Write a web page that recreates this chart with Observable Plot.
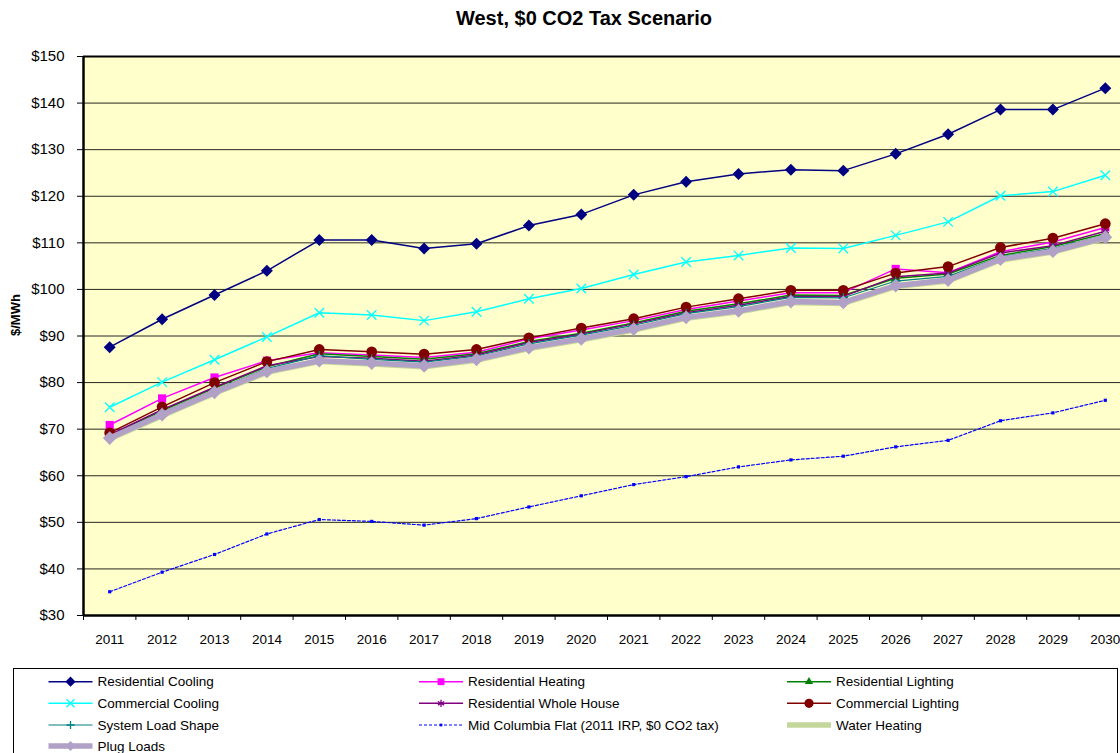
<!DOCTYPE html>
<html>
<head>
<meta charset="utf-8">
<script src="https://cdn.jsdelivr.net/npm/d3@7"></script>
<script src="https://cdn.jsdelivr.net/npm/@observablehq/plot@0.6"></script>
<style>
  html, body { margin: 0; padding: 0; background: #fff; overflow: hidden; }
  #wrap { position: relative; width: 1120px; height: 753px; font-family: "Liberation Sans", Arial, sans-serif; }
  #title { position: absolute; left: 0; width: 1168px; top: 6px; text-align: center; font-weight: bold; font-size: 20px; line-height: 24px; color: #000; }
  #chart { position: absolute; left: 0; top: 0; }
  #legend { position: absolute; left: 0; top: 660px; }
</style>
</head>
<body>
<div id="wrap">
  <div id="chart"></div>
  <div id="title">West, $0 CO2 Tax Scenario</div>
  <div id="legend"></div>
</div>
<script>
const years = [2011, 2012, 2013, 2014, 2015, 2016, 2017, 2018, 2019, 2020, 2021, 2022, 2023, 2024, 2025, 2026, 2027, 2028, 2029, 2030];
const yTicks = [30, 40, 50, 60, 70, 80, 90, 100, 110, 120, 130, 140, 150];

const residentialCooling   = [87.6, 93.6, 98.8, 104.0, 110.6, 110.6, 108.8, 109.8, 113.7, 116.1, 120.3, 123.1, 124.8, 125.7, 125.5, 129.1, 133.3, 138.6, 138.6, 143.2];
const residentialHeating   = [70.9, 76.6, 81.1, 84.7, 86.4, 85.9, 85.4, 86.5, 89.4, 91.3, 93.3, 95.7, 97.5, 99.3, 99.3, 104.4, 103.6, 108.1, 110.2, 113.3];
const residentialLighting  = [68.6, 74.0, 78.8, 83.4, 86.2, 85.6, 85.0, 86.2, 88.8, 90.6, 92.8, 95.3, 96.9, 98.8, 98.7, 102.4, 103.3, 107.3, 109.2, 112.0];
const commercialCooling    = [74.7, 80.1, 84.9, 89.8, 95.0, 94.5, 93.3, 95.2, 98.0, 100.2, 103.2, 105.9, 107.3, 108.9, 108.8, 111.6, 114.5, 120.1, 121.0, 124.5];
const residentialWhole     = [68.8, 74.2, 79.0, 83.6, 85.6, 85.2, 84.6, 85.9, 88.6, 90.4, 92.6, 95.0, 96.6, 98.5, 98.5, 102.7, 103.5, 107.8, 109.4, 112.5];
const commercialLighting   = [69.2, 74.8, 80.0, 84.5, 87.1, 86.6, 86.1, 87.1, 89.6, 91.7, 93.7, 96.2, 98.0, 99.8, 99.8, 103.5, 104.9, 109.0, 111.0, 114.1];
const systemLoadShape      = [68.4, 73.6, 78.4, 83.0, 85.8, 85.0, 84.4, 85.7, 88.3, 90.2, 92.3, 94.8, 96.3, 98.3, 98.2, 101.8, 102.8, 107.0, 108.8, 111.6];
const midColumbia          = [35.1, 39.3, 43.1, 47.5, 50.6, 50.2, 49.4, 50.8, 53.3, 55.7, 58.1, 59.8, 61.9, 63.4, 64.2, 66.2, 67.6, 71.8, 73.5, 76.2];
const waterHeating         = [67.9, 72.9, 77.7, 82.2, 84.5, 84.0, 83.4, 84.8, 87.3, 89.2, 91.3, 93.8, 95.2, 97.2, 97.0, 100.6, 101.8, 106.3, 108.0, 111.0];
const plugLoads            = [68.1, 73.1, 77.9, 82.4, 84.7, 84.2, 83.6, 85.0, 87.5, 89.4, 91.5, 94.0, 95.4, 97.4, 97.2, 100.8, 102.0, 106.5, 108.2, 111.2];

const seriesNames = ["Residential Cooling", "Residential Heating", "Residential Lighting", "Commercial Cooling", "Residential Whole House", "Commercial Lighting", "System Load Shape", "Mid Columbia Flat (2011 IRP, $0 CO2 tax)", "Water Heating", "Plug Loads"];
const seriesValues = [residentialCooling, residentialHeating, residentialLighting, commercialCooling, residentialWhole, commercialLighting, systemLoadShape, midColumbia, waterHeating, plugLoads];

// styles (separate from data)
const styles = [
  {color: "#000080", w: 1.5, symbol: "diamond2", r: 5.4, filled: true},
  {color: "#FF00FF", w: 1.5, symbol: "square",   r: 4.6, filled: true},
  {color: "#008000", w: 1.5, symbol: "triangle", r: 3.6, filled: true},
  {color: "#00FFFF", w: 1.5, symbol: "times",    r: 4.4, filled: false},
  {color: "#800080", w: 1.5, symbol: "asterisk", r: 4.0, filled: false},
  {color: "#800000", w: 1.5, symbol: "circle",   r: 5.4, filled: true},
  {color: "#008080", w: 1.2, symbol: "plus",     r: 3.2, filled: false},
  {color: "#0000FF", w: 1.2, symbol: "square",   r: 1.8, filled: true, dash: "3,2"},
  {color: "#C3D69B", w: 5.5, symbol: null},
  {color: "#B2A1C7", w: 5.5, symbol: "diamond2", r: 6.2, filled: true}
];

const boundaries = years.map(y => y - 0.5).concat([years[years.length - 1] + 0.5]);
const grid = yTicks.slice(1, -1);

const marks = [
  Plot.frame({fill: "#FFFFCC", stroke: null}),
  Plot.ruleY(grid, {y: d => d, stroke: "#000", strokeWidth: 1, strokeOpacity: 0.85}),
];
seriesValues.forEach((vals, i) => {
  const s = styles[i];
  marks.push(Plot.line(years, {x: d => d, y: (d, j) => vals[j], stroke: s.color, strokeWidth: s.w, strokeDasharray: s.dash, strokeLinejoin: "round"}));
  if (s.symbol) {
    marks.push(Plot.dot(years, {x: d => d, y: (d, j) => vals[j], symbol: s.symbol, r: s.r,
      fill: s.filled ? s.color : "none", stroke: s.filled ? "none" : s.color, strokeWidth: 1.3}));
  }
});
marks.push(
  Plot.ruleY([150], {y: d => d, stroke: "#000", strokeWidth: 2}),
  Plot.ruleY([30], {y: d => d, stroke: "#000", strokeWidth: 2.5}),
  Plot.ruleX([2010.5], {x: d => d, stroke: "#000", strokeWidth: 2.5}),
  Plot.axisY({ticks: yTicks, tickFormat: d => "$" + d, tickSize: 6, tickPadding: 13, fontSize: 15, stroke: "#000", fill: "#000", label: null}),
  Plot.axisX({ticks: years, tickFormat: d => String(d), tickSize: 0, tickPadding: 19, fontSize: 13.5, fill: "#000", label: null}),
  Plot.axisX({ticks: boundaries, tickFormat: () => "", tickSize: 5, stroke: "#000", label: null}),
  Plot.text(["$/MWh"], {frameAnchor: "left", rotate: -90, dx: -68, fontWeight: "bold", fontSize: 13, fill: "#000"})
);

const plot = Plot.plot({
  width: 1120,
  height: 660,
  marginTop: 56,
  marginBottom: 45,
  marginLeft: 83,
  marginRight: 0,
  style: {fontFamily: "'Liberation Sans', Arial, sans-serif", background: "transparent", overflow: "visible"},
  x: {domain: [2010.5, 2030.5], range: [83, 1131]},
  y: {domain: [30, 150]},
  marks
});
document.getElementById("chart").appendChild(plot);

// Legend
const lsvg = d3.select("#legend").append("svg").attr("width", 1120).attr("height", 93)
  .style("font-family", "'Liberation Sans', Arial, sans-serif");
lsvg.append("rect").attr("x", 13.5).attr("y", 8.5).attr("width", 1104).attr("height", 100)
  .attr("fill", "#fff").attr("stroke", "#000").attr("stroke-width", 1);
const colX = [48.5, 419, 787];
const rowY = [21.7, 43.3, 65, 86];
const symMap = {diamond2: d3.symbolDiamond2, square: d3.symbolSquare, triangle: d3.symbolTriangle, times: d3.symbolTimes, asterisk: d3.symbolAsterisk, circle: d3.symbolCircle, plus: d3.symbolPlus};
seriesNames.forEach((name, i) => {
  const s = styles[i];
  const cx = colX[i % 3], cy = rowY[Math.floor(i / 3)];
  const g = lsvg.append("g");
  g.append("line").attr("x1", cx).attr("x2", cx + 44).attr("y1", cy).attr("y2", cy)
    .attr("stroke", s.color).attr("stroke-width", s.w).attr("stroke-dasharray", s.dash || null);
  if (s.symbol) {
    const r = i === 9 ? 4.5 : s.r * 0.85;
    g.append("path").attr("transform", `translate(${cx + 22},${cy})`)
      .attr("d", d3.symbol(symMap[s.symbol], Math.PI * r * r)())
      .attr("fill", s.filled ? s.color : "none").attr("stroke", s.filled ? "none" : s.color).attr("stroke-width", 1.3);
  }
  g.append("text").attr("x", cx + 49).attr("y", cy).attr("dy", "0.35em").attr("font-size", 13.5).attr("fill", "#000").text(name);
});
</script>
</body>
</html>
